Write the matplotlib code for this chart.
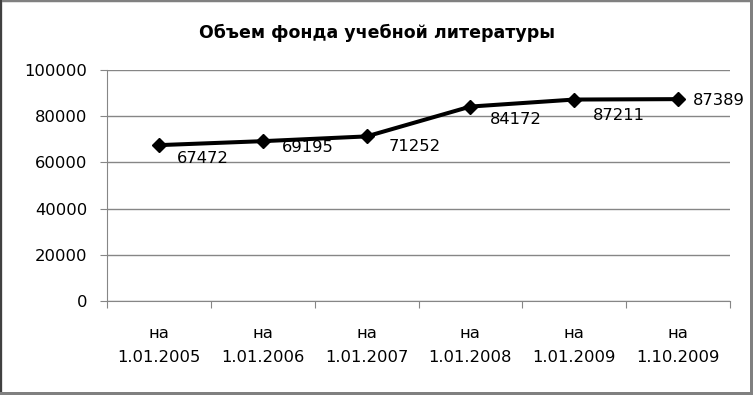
"""
plot.py

Line chart: volume of the educational literature fund (Excel-style look).
"""

import matplotlib
matplotlib.use("Agg")
import matplotlib.pyplot as plt
from matplotlib.patches import Rectangle

# ---------------------------------------------------------------------
#  Data
# ---------------------------------------------------------------------

title = "Объем фонда учебной литературы"
categories = ["на\n1.01.2005", "на\n1.01.2006", "на\n1.01.2007",
              "на\n1.01.2008", "на\n1.01.2009", "на\n1.10.2009"]
values = [67472, 69195, 71252, 84172, 87211, 87389]
y_ticks = [0, 20000, 40000, 60000, 80000, 100000]

# label offsets in pixels (dx, dy), hand-placed like in the original
label_offsets = [(18, -13), (19, -6), (22, -10), (19, -13), (19, -16), (15, -1)]

W, H = 753, 395
DPI = 100
GRID = "#868686"

plt.rcParams["font.family"] = ["DejaVu Sans"]

fig = plt.figure(figsize=(W / DPI, H / DPI), dpi=DPI)
fig.patch.set_facecolor("white")

ax = fig.add_axes([107 / W, 1 - 301 / H, (730 - 107) / W, (301 - 70) / H])

x = [i + 0.5 for i in range(len(values))]
ax.plot(x, values, color="black", lw=2.9, marker="D", markersize=7,
        markerfacecolor="black", markeredgecolor="black", zorder=3)

for xi, v, (dx, dy) in zip(x, values, label_offsets):
    ax.annotate(str(v), (xi, v), xytext=(dx, dy), textcoords="offset pixels",
                ha="left", va="center", fontsize=11.8, color="black")

ax.set_xlim(0, len(values))
ax.set_ylim(0, 100000)
ax.set_yticks(y_ticks)
ax.set_yticklabels([str(t) for t in y_ticks])
ax.yaxis.grid(True, color=GRID, lw=1)
ax.set_axisbelow(True)

# category axis: ticks between categories, labels centred
ax.set_xticks(range(len(values) + 1))
ax.set_xticklabels([])
ax.set_xticks(x, minor=True)
ax.set_xticklabels(categories, minor=True, fontsize=11.8, linespacing=1.75)
ax.tick_params(axis="x", which="major", length=5, color=GRID, direction="out")
ax.tick_params(axis="x", which="minor", length=0, pad=18)
ax.tick_params(axis="y", length=5, color=GRID, labelsize=11.8, pad=9)

for side in ["top", "right"]:
    ax.spines[side].set_visible(False)
for side in ["left", "bottom"]:
    ax.spines[side].set_color(GRID)

fig.text(377 / W, 1 - 33 / H, title, ha="center", va="center",
         fontsize=12.5, fontweight="bold")

# outer frame with a small shadow, as in the source screenshot
fig.patches.append(Rectangle((0, 0), 1, 1, transform=fig.transFigure,
                             fill=False, edgecolor="#808080", lw=2.5))
fig.patches.append(Rectangle((0, 0), 2 / W, 1, transform=fig.transFigure,
                             color="#404040", lw=0))
fig.patches.append(Rectangle((750 / W, 0), 3 / W, 1, transform=fig.transFigure,
                             color="#808080", lw=0))
fig.patches.append(Rectangle((0, 0), 1, 3 / H, transform=fig.transFigure,
                             color="#808080", lw=0))

fig.savefig("out.png", dpi=DPI)
